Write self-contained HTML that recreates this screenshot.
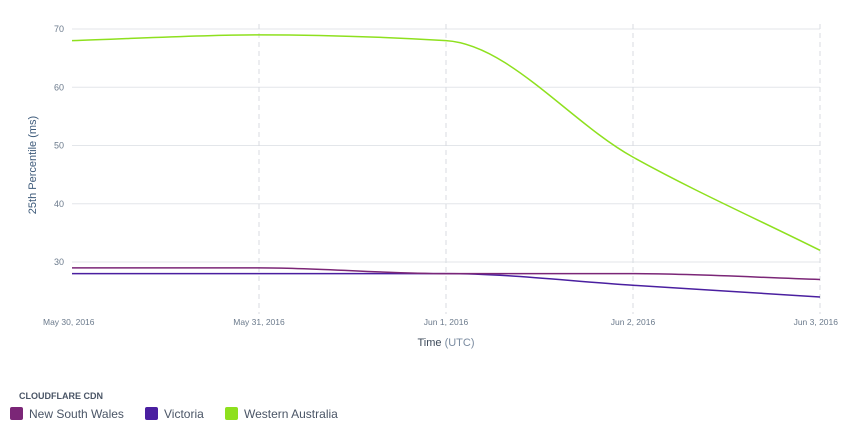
<!DOCTYPE html>
<html><head><meta charset="utf-8"><style>
body{margin:0;background:#fff;font-family:"Liberation Sans",sans-serif;}
svg text{font-family:"Liberation Sans",sans-serif;}
</style></head><body>
<svg id="chart" width="845" height="433" xmlns="http://www.w3.org/2000/svg">
<g id="grid"></g>
<g id="axes"></g>
<g id="lines"></g>
<text transform="translate(36,165) rotate(-90)" text-anchor="middle" font-size="11" fill="#3d5a7a">25th Percentile (ms)</text>
<text x="446" y="346" text-anchor="middle" font-size="11" fill="#3d4a5a">Time <tspan fill="#7a8ba0">(UTC)</tspan></text>
<text x="19" y="399" font-size="9" font-weight="bold" fill="#4a5566">CLOUDFLARE CDN</text>
<g><rect x="10" y="407" width="13" height="13" rx="2" fill="#7b2677"/><text x="29" y="418" font-size="12" fill="#4a5566">New South Wales</text></g>
<g><rect x="145" y="407" width="13" height="13" rx="2" fill="#4a1fa0"/><text x="164" y="418" font-size="12" fill="#4a5566">Victoria</text></g>
<g><rect x="225" y="407" width="13" height="13" rx="2" fill="#8ee01e"/><text x="244" y="418" font-size="12" fill="#4a5566">Western Australia</text></g>
</svg>
<script>
const categories=["May 30, 2016","May 31, 2016","Jun 1, 2016","Jun 2, 2016","Jun 3, 2016"];
const yTicks=[30,40,50,60,70];
const nsw=[29,29,28,28,27];
const victoria=[28,28,28,26,24];
const wa=[68,69,68,48,32];
const NS="http://www.w3.org/2000/svg";
const x0=72,x1=820,yTop=29,y70=70,y30=262;
const xs=i=>x0+(x1-x0)*i/(categories.length-1);
const ys=v=>y30-(v-30)*(y30-yTop)/(y70-30);
function mk(tag,attrs,parent){const e=document.createElementNS(NS,tag);for(const k in attrs)e.setAttribute(k,attrs[k]);parent.appendChild(e);return e;}
const grid=document.getElementById('grid'),axes=document.getElementById('axes'),lines=document.getElementById('lines');
yTicks.forEach(t=>{
 const l=mk('line',{x1:x0,x2:x1,y1:ys(t),y2:ys(t),stroke:'#e3e6ea','stroke-width':1},grid);
 
 
 const tx=mk('text',{x:64,y:ys(t)+3,'text-anchor':'end','font-size':9,fill:'#6b7a8c'},axes);
 tx.textContent=t;
 
 
});
categories.forEach((c,i)=>{
 if(i>0){const l=mk('line',{x1:xs(i),x2:xs(i),y1:yTop-5,y2:314,stroke:'#d8dbe0','stroke-dasharray':'5,4'},grid);
 
 }
 const anchor=i===0?'start':(i===categories.length-1?'end':'middle');
 const tx=mk('text',{x:i===0?43:(i===categories.length-1?838:xs(i)),y:325,'text-anchor':anchor,'font-size':8.5,fill:'#6b7a8c'},axes);
 tx.textContent=c;
 
 
});
function monotonePath(vals){
 const p=vals.map((v,i)=>[xs(i),ys(v)]);const n=p.length;
 const d=[],m=[];
 for(let i=0;i<n-1;i++)d.push((p[i+1][1]-p[i][1])/(p[i+1][0]-p[i][0]));
 m[0]=d[0];m[n-1]=d[n-2];
 for(let i=1;i<n-1;i++)m[i]=(d[i-1]*d[i]<=0)?0:(2/(1/d[i-1]+1/d[i]));
 let s=`M${p[0][0]},${p[0][1]}`;
 for(let i=0;i<n-1;i++){const h=(p[i+1][0]-p[i][0])/3;
  s+=` C${p[i][0]+h},${p[i][1]+m[i]*h} ${p[i+1][0]-h},${p[i+1][1]-m[i+1]*h} ${p[i+1][0]},${p[i+1][1]}`;}
 return s;
}
[[wa,'#8ee01e','line-western-australia'],[victoria,'#4a1fa0','line-victoria'],[nsw,'#7b2677','line-new-south-wales']].forEach(([v,c,n])=>{
 const pth=mk('path',{d:monotonePath(v),fill:'none',stroke:c,'stroke-width':1.5},lines);
 
 
});
</script>
</body></html>
